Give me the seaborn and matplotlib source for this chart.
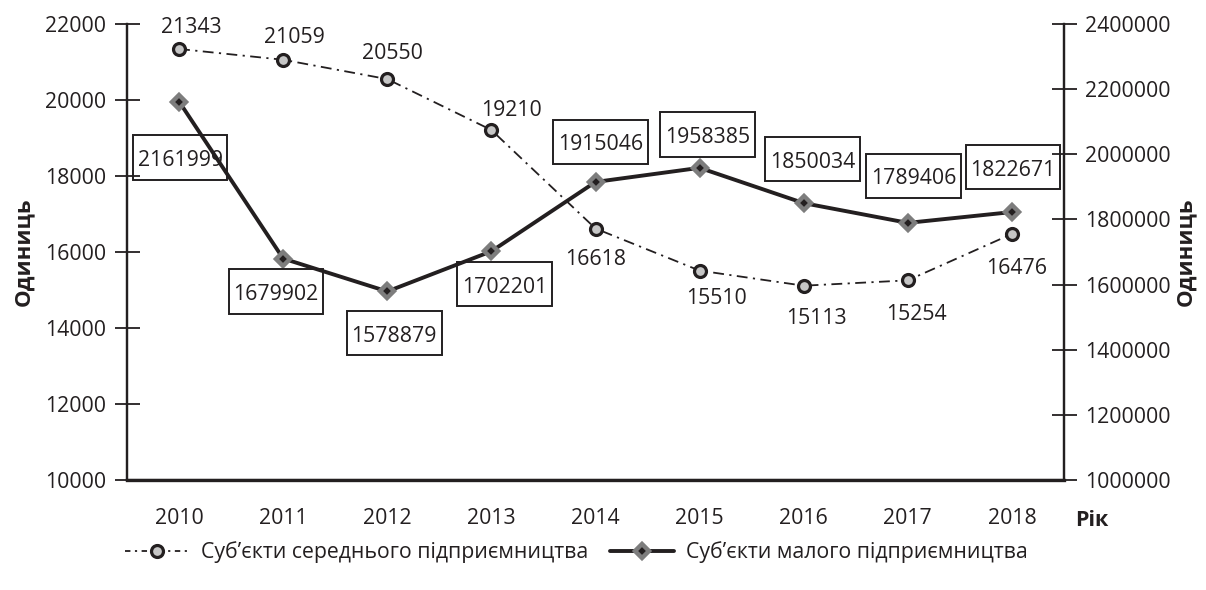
import matplotlib
matplotlib.use("Agg")
import matplotlib.pyplot as plt
from matplotlib.lines import Line2D
from matplotlib.path import Path
import seaborn as sns
import numpy as np

years = ["2010", "2011", "2012", "2013", "2014", "2015", "2016", "2017", "2018"]
medium = [21343, 21059, 20550, 19210, 16618, 15510, 15113, 15254, 16476]
small = [2161999, 1679902, 1578879, 1702201, 1915046, 1958385, 1850034, 1789406, 1822671]
left_ticks = [10000, 12000, 14000, 16000, 18000, 20000, 22000]
right_ticks = [1000000, 1200000, 1400000, 1600000, 1800000, 2000000, 2200000, 2400000]
medium_name = "Суб’єкти середнього підприємництва"
small_name = "Суб’єкти малого підприємництва"
x_label = "Рік"
y_label = "Одиниць"

INK = "#231f20"
FS = 15.3

sns.set_style("white")
plt.rcParams['font.family'] = ['Open Sans', 'DejaVu Sans']
plt.rcParams['text.color'] = INK
plt.rcParams['axes.labelcolor'] = INK
plt.rcParams['xtick.color'] = INK
plt.rcParams['ytick.color'] = INK


def label_box(x0, y0, width, height, mutation_size):
    px = 0.22 * mutation_size
    pt = 0.70 * mutation_size
    pb = 0.40 * mutation_size
    x0, y0 = x0 - px, y0 - pb
    x1, y1 = x0 + width + 2 * px, y0 + height + pb + pt
    return Path([(x0, y0), (x1, y0), (x1, y1), (x0, y1), (x0, y0)], closed=True)


fig = plt.figure(figsize=(12.06, 5.9), dpi=100)
ax = fig.add_axes([127/1206, 1-480/590, (1064-127)/1206, (480-24)/590])
ax2 = ax.twinx()

x = np.arange(len(years))

sns.lineplot(x=x, y=medium, ax=ax, color=INK, lw=1.3, sort=False,
             linestyle=(0, (6, 3, 1.2, 3)), marker="o", markersize=8.6,
             markerfacecolor="#c6c6c6", markeredgecolor=INK, markeredgewidth=2.3, zorder=3)
sns.lineplot(x=x, y=small, ax=ax2, color=INK, lw=2.8, sort=False,
             marker="D", markersize=7.5, markerfacecolor=INK,
             markeredgecolor="#7d7d7d", markeredgewidth=3.2, zorder=3)

ax.set_xlim(-0.5, len(years) - 0.5)
ax.set_ylim(left_ticks[0], left_ticks[-1])
ax2.set_ylim(right_ticks[0], right_ticks[-1])
ax.set_yticks(left_ticks)
ax.set_yticklabels([str(t) for t in left_ticks])
ax2.set_yticks(right_ticks)
ax2.set_yticklabels([str(t) for t in right_ticks])
ax.set_xticks(x)
ax.set_xticklabels(years)
ax.set_xticks(np.arange(len(years) + 1) - 0.5, minor=True)
ax.tick_params(axis="x", which="major", length=0, pad=20, labelsize=FS)
ax.tick_params(axis="x", which="minor", direction="inout", length=15, width=1.3)
ax.tick_params(axis="y", direction="inout", length=18, width=1.3, labelsize=FS, pad=6)
ax2.tick_params(axis="y", direction="inout", length=18, width=1.3, labelsize=FS, pad=6)

for a in (ax, ax2):
    a.spines["top"].set_visible(False)
    for s in ["left", "right", "bottom"]:
        a.spines[s].set_color(INK)
        a.spines[s].set_linewidth(1.6)
ax.spines["bottom"].set_linewidth(2.4)

ax.set_ylabel(y_label, fontsize=16, fontweight="bold", labelpad=8)
ax2.set_ylabel(y_label, fontsize=16, fontweight="bold", labelpad=3)
ax.text(1.012, -0.089, x_label, transform=ax.transAxes, fontsize=15.5, fontweight="bold",
        ha="left", va="center")

# label offsets in pixels (dx right, dy down)
med_off = [(12, -21), (11, -22), (5, -26), (20, -20), (0, 31), (17, 28), (13, 33), (9, 34), (5, 35)]
for xi, v, (dx, dy) in zip(x, medium, med_off):
    ax.annotate(f"{v}", (xi, v), xytext=(dx * 0.72, -dy * 0.72), textcoords="offset points",
                ha="center", va="center", fontsize=FS, zorder=5)

small_off = [(1, 59), (-7, 36), (7, 45), (13, 36), (5, -37), (8, -30), (9, -41), (6, -44), (1, -42)]
for xi, v, (dx, dy) in zip(x, small, small_off):
    ax2.annotate(f"{v}", (xi, v), xytext=(dx * 0.72, -dy * 0.72), textcoords="offset points",
                 ha="center", va="center", fontsize=FS, zorder=5,
                 bbox=dict(boxstyle=label_box, fc="none", ec=INK, lw=1.4))

h1 = Line2D([], [], color=INK, lw=1.3, linestyle=(0, (3, 2.5, 1.2, 2.5)), marker="o",
            markersize=8.6, markerfacecolor="#c6c6c6", markeredgecolor=INK, markeredgewidth=2.3)
h2 = Line2D([], [], color=INK, lw=2.8, marker="D", markersize=7.5,
            markerfacecolor=INK, markeredgecolor="#7d7d7d", markeredgewidth=3.2)
fig.legend([h1, h2], [medium_name, small_name], loc="center", bbox_to_anchor=(0.478, 0.064),
           ncol=2, frameon=False, fontsize=FS, handlelength=3.0, columnspacing=1.0, handletextpad=0.6)

fig.savefig("out.png", dpi=100)
